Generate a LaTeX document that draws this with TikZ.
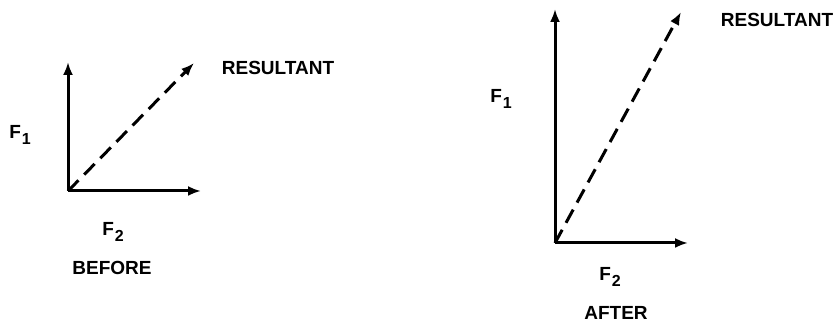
\documentclass[tikz,border=0pt]{standalone}
\usepackage{fontspec}
\setmainfont{Liberation Sans}
\usetikzlibrary{arrows.meta,positioning}
\tikzset{
  forceArrow/.style={-{Latex[length=6.5pt,width=5pt]},line width=1.5pt},
  resArrow/.style={-{Latex[length=6.5pt,width=5pt]},line width=1.5pt,dash pattern=on 7.5pt off 4pt},
  vlabel/.style={font=\bfseries\fontsize{9.5}{10}\selectfont,inner sep=0pt}
}
\newcommand{\forcesub}[1]{F\kern0.4pt\raisebox{-0.55ex}{\fontsize{8}{8}\selectfont #1}}

\begin{document}
\begin{tikzpicture}[x=0.5pt,y=-0.5pt]
  \path[use as bounding box] (0,0) rectangle (835,324);

  \coordinate (o1) at (68,191);
  \coordinate (up1) at (68,62);
  \coordinate (rt1) at (201,191);
  \coordinate (res1) at (194,63);
  \draw[forceArrow] (o1) -- (up1);
  \draw[forceArrow] (o1) -- (rt1);
  \draw[resArrow] (o1) -- (res1);
  \node[vlabel] (fa1) at (20,135) {\forcesub{1}};
  \node[vlabel] (fb1) at (113,232) {\forcesub{2}};
  \node[vlabel] (res1lbl) at (278,68) {RESULTANT};
  \node[vlabel] (before) at (112,268) {BEFORE};

  \coordinate (o2) at (555,243);
  \coordinate (up2) at (555,9);
  \coordinate (rt2) at (688,243);
  \coordinate (res2) at (681,12);
  \draw[forceArrow] (o2) -- (up2);
  \draw[forceArrow] (o2) -- (rt2);
  \draw[resArrow] (o2) -- (res2);
  \node[vlabel] (fa2) at (501,99) {\forcesub{1}};
  \node[vlabel] (fb2) at (610,277) {\forcesub{2}};
  \node[vlabel] (res2lbl) at (777,20) {RESULTANT};
  \node[vlabel] (after) at (616,313) {AFTER};
\end{tikzpicture}
\end{document}
